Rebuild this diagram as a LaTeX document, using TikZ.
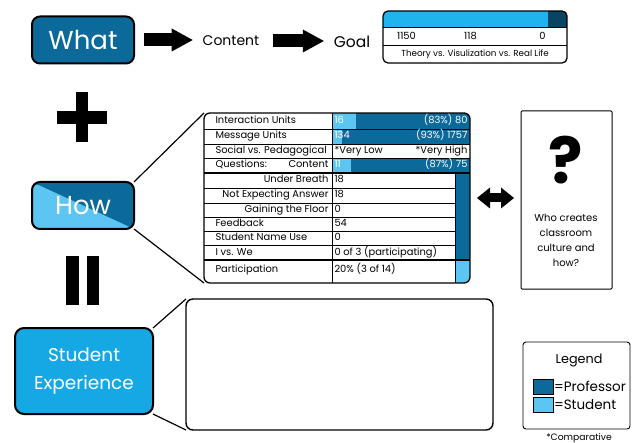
\documentclass[tikz,border=0pt]{standalone}
\usepackage{fontspec}
\setmainfont{Poppins}
\usepackage{tikz}
\usetikzlibrary{arrows.meta}
\usetikzlibrary{calc}
\usetikzlibrary{positioning}

\definecolor{profblue}{RGB}{12,106,154}
\definecolor{studblue}{RGB}{92,197,241}
\definecolor{expblue}{RGB}{22,168,229}
\definecolor{goalblue}{RGB}{30,180,238}
\definecolor{goalnavy}{RGB}{10,68,100}

\begin{document}
\begin{tikzpicture}[x=1pt, y=-1pt, outer sep=0pt,
	bigbox/.style={rectangle, rounded corners=8pt, draw=black, line width=2pt,
				text=white, minimum width=102pt, minimum height=47pt,
				font=\fontsize{26}{26}\selectfont},
	fatarrow/.style={line width=13pt, -{Triangle[length=21pt, width=23pt, line width=0pt]}},
	fatboth/.style={line width=9pt,
				{Triangle[length=13pt, width=21pt, line width=0pt]}-{Triangle[length=13pt, width=21pt, line width=0pt]}},
	cell/.style={font=\fontsize{9.9}{9.9}\selectfont, inner sep=1.5pt,
				text height=7pt, text depth=2pt},
	bartxt/.style={cell, text=white},
	gridline/.style={line width=0.9pt},
	swatch/.style={rectangle, draw, line width=1pt, minimum width=20pt, minimum height=15pt},
	legtxt/.style={inner sep=0pt, font=\fontsize{13.5}{13.5}\selectfont},
]
\useasboundingbox (0,0) rectangle (636,443);

% what
\node [bigbox, fill=profblue] (what) at (83,40) {What};
\node [inner sep=0pt, font=\fontsize{14}{14}\selectfont] (content) at (231,41) {Content};
\node [inner sep=0pt, font=\fontsize{15.5}{15.5}\selectfont] (goal) at (352,42) {Goal};
\draw [fatarrow, shorten <=10pt, shorten >=10pt] (what.east) -- (what.east -| content.west);
\draw [fatarrow, shorten <=14pt, shorten >=10pt] (content.east) -- (content.east -| goal.west);

% goal table
\begin{scope}
\clip [rounded corners=5pt] (383,11) rectangle (567,63);
\fill [goalblue] (383,11) rectangle (548,28);
\fill [goalnavy] (548,11) rectangle (567,28);
\end{scope}
\node [draw, line width=1.3pt, rounded corners=5pt, minimum width=184pt,
	minimum height=52pt] (gtab) at (475,37) {};
\draw [line width=1pt] (gtab.west |- 0,28) -- (gtab.east |- 0,28);
\draw [line width=1pt] (gtab.west |- 0,46) -- (gtab.east |- 0,46);
\node [cell] (g1) at (406.5,37) {1150};
\node [cell] (g2) at (470.5,37) {118};
\node [cell] (g3) at (542.5,37) {0};
\node [cell, font=\fontsize{8.75}{8.75}\selectfont] (gcap) at (475,54.5) {Theory vs. Visulization vs. Real Life};

% plus and equals
\fill (57,111) rectangle (107,124);
\fill (75.5,92) rectangle (88,142);
\fill (66,256) rectangle (79,305);
\fill (87,256) rectangle (99,305);

% how
\node [bigbox, fill=profblue, path picture={
	\fill [studblue] (path picture bounding box.north west)
		-- (path picture bounding box.south east)
		-- (path picture bounding box.south west) -- cycle;}] (how) at (83,205.5) {How};

% table
\begin{scope}
\clip [rounded corners=6pt] (204,113) rectangle (470,283);
\fill [profblue] (332,113) rectangle (470,144);
\fill [profblue] (332,158) rectangle (470,173);
\fill [studblue] (332,113) rectangle (356,129);
\fill [studblue] (332,129) rectangle (342,144);
\fill [studblue] (332,158) rectangle (351,173);
\fill [profblue] (455,173) rectangle (470,260);
\fill [studblue] (455,260) rectangle (470,283);
\end{scope}
\node [draw, line width=1.3pt, rounded corners=6pt, minimum width=266pt,
	minimum height=170pt] (tab) at (337,198) {};
\draw [line width=1.2pt] (how.north east) -- (tab.north west);
\draw [line width=1.2pt] (how.south east) -- (tab.south west);
\foreach \yl in {129,144,158}
	\draw [gridline] (204,\yl) -- (470,\yl);
\draw [line width=1.3pt] (204,173) -- (470,173);
\foreach \yl in {188,203,217,231,245}
	\draw [gridline] (204,\yl) -- (455,\yl);
\draw [line width=1.3pt] (204,260) -- (470,260);
\draw [gridline] (332,113) -- (332,283);
\draw [gridline] (455,173) -- (455,283);
\foreach \yc/\lbl [count=\i] in {121/Interaction Units, 136.5/Message Units,
	151/Social vs. Pedagogical, 165.5/Questions:, 224/Feedback,
	238/Student Name Use, 252.5/I vs. We, 270/Participation}
	\node [cell, anchor=west] (lleft\i) at (214,\yc) {\lbl};
\foreach \yc/\lbl [count=\i] in {165.5/Content, 180.5/Under Breath,
	195.5/Not Expecting Answer, 210/Gaining the Floor}
	\node [cell, anchor=east] (lright\i) at (330,\yc) {\lbl};
\foreach \yc/\val [count=\i] in {180.5/18, 195.5/18, 210/0, 224/54, 238/0,
	252.5/0 of 3 (participating), 270/20\% (3 of 14)}
	\node [cell, anchor=west] (val\i) at (333,\yc) {\val};
\node [bartxt, anchor=west] (b1l) at (333,121) {16};
\node [bartxt, anchor=east] (b1r) at (469,121) {(83\%) 80};
\node [bartxt, anchor=west] (b2l) at (333,136.5) {134};
\node [bartxt, anchor=east] (b2r) at (469,136.5) {(93\%) 1757};
\node [cell, anchor=west] (b3l) at (333,151) {*Very Low};
\node [cell, anchor=east] (b3r) at (469,151) {*Very High};
\node [bartxt, anchor=west] (b4l) at (333,165.5) {11};
\node [bartxt, anchor=east] (b4r) at (469,165.5) {(87\%) 75};

% question
\node [draw, line width=1pt, rounded corners=1pt, minimum width=91pt,
	minimum height=178pt] (quest) at (566.5,200) {};
\node [font=\fontsize{64}{64}\selectfont\bfseries] (qmark) at (566,160) {?};
\node [align=center, font=\fontsize{10}{15}\selectfont] (qtext) at (566,240.5)
	{Who creates\\classroom\\culture and\\how?};
\draw [fatboth, shorten <=7pt, shorten >=7pt] (tab.east) -- (tab.east -| quest.west);

% student experience
\node [bigbox, fill=expblue, rounded corners=9pt, minimum width=138pt, minimum height=86pt,
	align=center, font=\fontsize{18.5}{28}\selectfont] (se) at (84,371) {Student\\Experience};
\node [draw, line width=1.4pt, rounded corners=7pt, minimum width=307pt,
	minimum height=131pt] (outcome) at (339.5,364.5) {};
\draw [line width=1.2pt] (se.north east) -- (outcome.north west);
\draw [line width=1.2pt] (se.south east) -- (outcome.south west);

% legend
\node [draw, line width=0.9pt, rounded corners=3pt, minimum width=107pt,
	minimum height=87pt] (legend) at (576.5,385.5) {};
\node [font=\fontsize{12.8}{12.8}\selectfont] (legtitle) at (579,360) {Legend};
\node [swatch, fill=profblue] (sprof) at (543,386.5) {};
\node [swatch, fill=studblue] (sstud) at (543,405) {};
\node [legtxt, right=1pt of sprof] (lprof) {=Professor};
\node [legtxt, right=1pt of sstud] (lstud) {=Student};
\node [font=\fontsize{9.2}{9.2}\selectfont] (comp) at (579,438) {*Comparative};
\end{tikzpicture}
\end{document}
